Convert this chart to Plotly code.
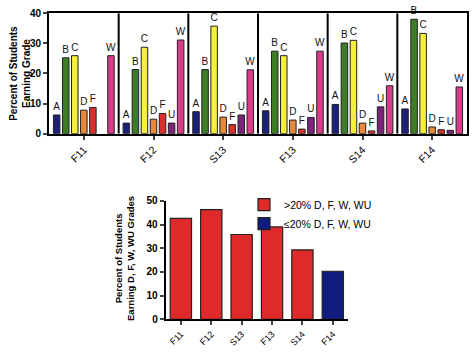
import plotly.graph_objects as go

terms = ["F11", "F12", "S13", "F13", "S14", "F14"]
grades = ["A", "B", "C", "D", "F", "U", "W"]
grade_values = {
    "A": [6.2, 3.5, 7.3, 7.6, 9.7, 8.2],
    "B": [25.2, 21.3, 21.3, 27.4, 30.1, 38.0],
    "C": [25.9, 28.7, 35.7, 25.9, 31.0, 33.3],
    "D": [7.8, 4.8, 5.5, 4.5, 3.5, 2.2],
    "F": [8.7, 6.7, 3.0, 1.5, 0.9, 1.3],
    "U": [None, 3.5, 6.2, 5.4, 8.9, 1.1],
    "W": [25.9, 31.1, 21.2, 27.4, 15.9, 15.5],
}
grade_colors = {
    "A": "#1b2079", "B": "#3f7c26", "C": "#f6ef3d", "D": "#e8893a",
    "F": "#d9302d", "U": "#7b2479", "W": "#d93c8b",
}
dfw_terms_high = ["F11", "F12", "S13", "F13", "S14"]
dfw_values_high = [42.6, 46.3, 35.8, 39.0, 29.3]
dfw_terms_low = ["F14"]
dfw_values_low = [20.3]

FONT = "Liberation Sans, Arial, sans-serif"
PW = 7.7     # panel width in x units
OFF = 0.85   # offset of first bar within panel

fig = go.Figure()
for gi, g in enumerate(grades):
    xs = [ti * PW + OFF + gi for ti in range(len(terms))]
    ys = grade_values[g]
    fig.add_trace(go.Bar(
        x=xs, y=ys, width=0.72,
        marker=dict(color=grade_colors[g], line=dict(color="#222222", width=1)),
        text=[g if v is not None else "" for v in ys],
        textposition="outside", constraintext="none", cliponaxis=False,
        textfont=dict(family=FONT, size=10, color="#111"),
        showlegend=False, xaxis="x", yaxis="y",
    ))

fig.add_trace(go.Bar(
    x=dfw_terms_high, y=dfw_values_high, name=">20% D, F, W, WU",
    marker=dict(color="#e0292a", line=dict(color="#222", width=1.2)),
    xaxis="x2", yaxis="y2",
))
fig.add_trace(go.Bar(
    x=dfw_terms_low, y=dfw_values_low, name="≤20% D, F, W, WU",
    marker=dict(color="#101c7e", line=dict(color="#222", width=1.2)),
    xaxis="x2", yaxis="y2",
))

shapes = []
for ti in range(1, len(terms)):
    shapes.append(dict(type="line", xref="x", yref="y", x0=ti * PW, x1=ti * PW,
                       y0=0, y1=40, line=dict(color="black", width=2)))

fig.update_layout(
    width=474, height=359,
    margin=dict(l=0, r=0, t=0, b=0),
    paper_bgcolor="white", plot_bgcolor="white",
    barmode="overlay", bargap=0.3,
    font=dict(family=FONT, color="black", size=10),
    shapes=shapes,
    xaxis=dict(
        domain=[49 / 474, 467 / 474], range=[0, PW * 6],
        tickvals=[ti * PW + PW / 2 for ti in range(len(terms))], ticktext=terms,
        tickangle=-45, ticks="outside", ticklen=4, tickwidth=2,
        showline=True, linewidth=2, linecolor="black", mirror=True,
        showgrid=False, zeroline=False, tickfont=dict(size=10.5),
    ),
    yaxis=dict(
        domain=[(359 - 132.7) / 359, (359 - 8.5) / 359], range=[0, 40],
        tickvals=[0, 10, 20, 30, 40], ticks="outside", ticklen=4, tickwidth=2,
        showline=True, linewidth=2, linecolor="black", mirror=True,
        showgrid=False, zeroline=False,
        tickfont=dict(size=10, weight="bold"),
    ),
    xaxis2=dict(
        domain=[165.7 / 474, 348 / 474],
        categoryorder="array", categoryarray=terms,
        tickangle=-45, ticks="outside", ticklen=4, tickwidth=2,
        showline=True, linewidth=2, linecolor="black",
        showgrid=False, zeroline=False, tickfont=dict(size=9),
        anchor="y2",
    ),
    yaxis2=dict(
        domain=[(359 - 324.3) / 359, (359 - 202) / 359], range=[0, 50],
        tickvals=[0, 10, 20, 30, 40, 50], ticks="outside", ticklen=4, tickwidth=2,
        showline=True, linewidth=2, linecolor="black",
        showgrid=False, zeroline=False, anchor="x2",
        tickfont=dict(size=10, weight="bold"),
    ),
    legend=dict(x=244 / 474, y=(359 - 191) / 359, xanchor="left", yanchor="top",
                font=dict(size=10.5), bgcolor="rgba(0,0,0,0)", tracegroupgap=0),
    annotations=[
        dict(text="Percent of Students<br>Earning Grade", xref="paper", yref="paper",
             x=20 / 474, y=(359 - 71) / 359, xanchor="center", yanchor="middle",
             textangle=-90, showarrow=False,
             font=dict(size=10, weight="bold")),
        dict(text="Percent of Students<br>Earning D, F, W, WU Grades", xref="paper", yref="paper",
             x=125 / 474, y=(359 - 262) / 359, xanchor="center", yanchor="middle",
             textangle=-90, showarrow=False,
             font=dict(size=9.5, weight="bold")),
    ],
)

fig.write_html("out.html", config={"displayModeBar": False},
               post_script="document.body.style.margin='0';")
